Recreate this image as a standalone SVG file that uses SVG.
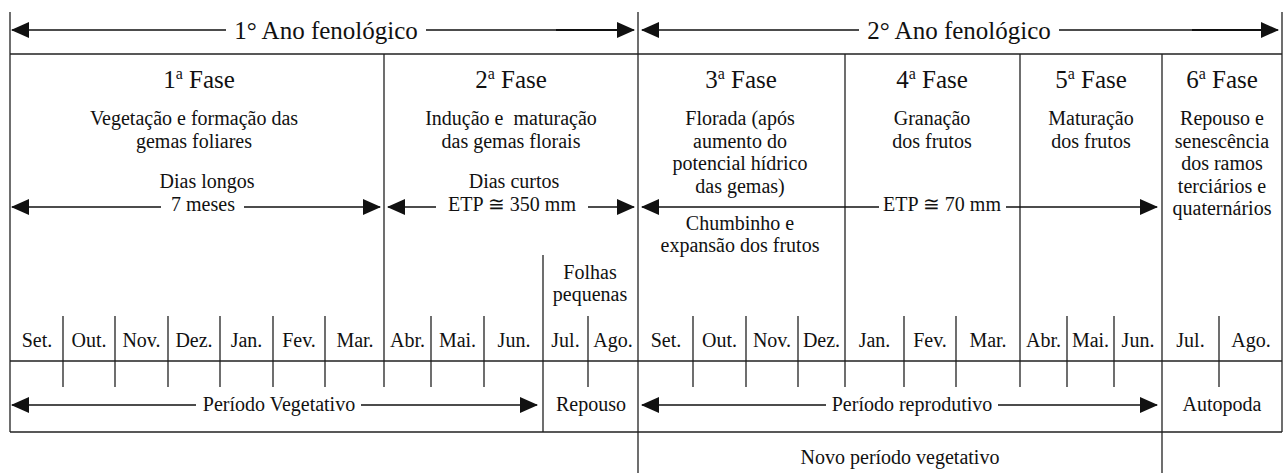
<svg xmlns="http://www.w3.org/2000/svg" width="1286" height="473" viewBox="0 0 1286 473">
<defs>
<marker id="ah" markerUnits="userSpaceOnUse" markerWidth="18" markerHeight="16" refX="17" refY="8" orient="auto-start-reverse" viewBox="0 0 18 16"><path d="M0,0 L18,8 L0,16 z" fill="#111"/></marker>
<style>
text{font-family:"Liberation Serif","Times New Roman","DejaVu Serif",serif;fill:#111;text-anchor:middle}
.h{font-size:25px}
.t{font-size:25px}
.b{font-size:20px}
.g{stroke:#222;stroke-width:1.3;fill:none}
.a{stroke:#111;stroke-width:1.4;fill:none}
.k{stroke:#111;stroke-width:2.2;fill:none}
</style>
</defs>
<rect width="1286" height="473" fill="#fff"/>

<g id="grid" class="g">
<path d="M10,12V432 M638,12V473 M1282,12V432 M10,54H1282 M10,361H1282 M10,432H1282"/>
<path d="M384,54V387 M845,54V387 M1020,54V387 M1162,54V473 M543,255V432"/>
<path d="M63,316V387 M115,316V387 M168,316V387 M220,316V387 M273,316V387 M325,316V387 M431,316V387 M484,316V387 M588,316V387 M693,316V387 M746,316V387 M798,316V387 M904,316V387 M956,316V387 M1067,316V387 M1114,316V387 M1219,316V387"/>
</g>

<g id="connectors">
<line class="a" x1="12" y1="30" x2="226" y2="30" marker-start="url(#ah)"/>
<line class="a" x1="426" y1="30" x2="634" y2="30" marker-end="url(#ah)"/>
<line class="k" x1="556" y1="30" x2="620" y2="30"/>
<line class="a" x1="642" y1="30" x2="859" y2="30" marker-start="url(#ah)"/>
<line class="a" x1="1059" y1="30" x2="1278" y2="30" marker-end="url(#ah)"/>
<line class="k" x1="1192" y1="30" x2="1264" y2="30"/>
<line class="a" x1="12" y1="207" x2="161" y2="207" marker-start="url(#ah)"/>
<line class="a" x1="244" y1="207" x2="380" y2="207" marker-end="url(#ah)"/>
<line class="a" x1="388" y1="207" x2="436" y2="207" marker-start="url(#ah)"/>
<line class="a" x1="588" y1="207" x2="634" y2="207" marker-end="url(#ah)"/>
<line class="a" x1="642" y1="207" x2="879" y2="207" marker-start="url(#ah)"/>
<line class="a" x1="1006" y1="207" x2="1157" y2="207" marker-end="url(#ah)"/>
<line class="a" x1="12" y1="405" x2="196" y2="405" marker-start="url(#ah)"/>
<line class="a" x1="361" y1="405" x2="537" y2="405" marker-end="url(#ah)"/>
<line class="a" x1="642" y1="405" x2="826" y2="405" marker-start="url(#ah)"/>
<line class="a" x1="998" y1="405" x2="1157" y2="405" marker-end="url(#ah)"/>
</g>

<g id="ano1"><text class="h" x="326" y="39">1° Ano fenológico</text></g>
<g id="ano2"><text class="h" x="959" y="39">2° Ano fenológico</text></g>

<g id="fase1" class="b">
<text class="t" x="199" y="88">1<tspan font-size="16" dy="-9">a</tspan><tspan dy="9"> Fase</tspan></text>
<text x="194" y="125">Vegetação e formação das</text>
<text x="194" y="147.5">gemas foliares</text>
<text x="207" y="188">Dias longos</text>
<text x="203" y="211">7 meses</text>
</g>
<g id="fase2" class="b">
<text class="t" x="511" y="88">2<tspan font-size="16" dy="-9">a</tspan><tspan dy="9"> Fase</tspan></text>
<text x="511" y="125" xml:space="preserve">Indução e  maturação</text>
<text x="511" y="147.5">das gemas florais</text>
<text x="514" y="188">Dias curtos</text>
<text x="512" y="211">ETP ≅ 350 mm</text>
</g>
<g id="fase3" class="b">
<text class="t" x="741" y="88">3<tspan font-size="16" dy="-9">a</tspan><tspan dy="9"> Fase</tspan></text>
<text x="740" y="125">Florada (após</text>
<text x="740" y="147.5">aumento do</text>
<text x="740" y="170">potencial hídrico</text>
<text x="740" y="192.5">das gemas)</text>
<text x="740" y="230">Chumbinho e</text>
<text x="740" y="252">expansão dos frutos</text>
</g>
<g id="etp70" class="b"><text x="942" y="211">ETP ≅ 70 mm</text></g>
<g id="fase4" class="b">
<text class="t" x="932" y="88">4<tspan font-size="16" dy="-9">a</tspan><tspan dy="9"> Fase</tspan></text>
<text x="932" y="125">Granação</text>
<text x="932" y="147.5">dos frutos</text>
</g>
<g id="fase5" class="b">
<text class="t" x="1091" y="88">5<tspan font-size="16" dy="-9">a</tspan><tspan dy="9"> Fase</tspan></text>
<text x="1091" y="125">Maturação</text>
<text x="1091" y="147.5">dos frutos</text>
</g>
<g id="fase6" class="b">
<text class="t" x="1222" y="88">6<tspan font-size="16" dy="-9">a</tspan><tspan dy="9"> Fase</tspan></text>
<text x="1222" y="125">Repouso e</text>
<text x="1222" y="147.5">senescência</text>
<text x="1222" y="170">dos ramos</text>
<text x="1222" y="192.5">terciários e</text>
<text x="1222" y="215">quaternários</text>
</g>
<g id="folhas" class="b">
<text x="590" y="279">Folhas</text>
<text x="590" y="301">pequenas</text>
</g>

<g id="meses" class="b">
<text x="37" y="347">Set.</text>
<text x="89" y="347">Out.</text>
<text x="141.5" y="347">Nov.</text>
<text x="194" y="347">Dez.</text>
<text x="246.5" y="347">Jan.</text>
<text x="299" y="347">Fev.</text>
<text x="355" y="347">Mar.</text>
<text x="407.5" y="347">Abr.</text>
<text x="457.5" y="347">Mai.</text>
<text x="514" y="347">Jun.</text>
<text x="565.5" y="347">Jul.</text>
<text x="613" y="347">Ago.</text>
<text x="666" y="347">Set.</text>
<text x="719.5" y="347">Out.</text>
<text x="772" y="347">Nov.</text>
<text x="821.5" y="347">Dez.</text>
<text x="874.5" y="347">Jan.</text>
<text x="930" y="347">Fev.</text>
<text x="988" y="347">Mar.</text>
<text x="1043.5" y="347">Abr.</text>
<text x="1090.5" y="347">Mai.</text>
<text x="1138" y="347">Jun.</text>
<text x="1190.5" y="347">Jul.</text>
<text x="1251" y="347">Ago.</text>
</g>

<g id="periodos" class="b">
<text x="279" y="411">Período Vegetativo</text>
<text x="591" y="411">Repouso</text>
<text x="912" y="411">Período reprodutivo</text>
<text x="1222" y="411">Autopoda</text>
<text x="900" y="464">Novo período vegetativo</text>
</g>
</svg>
